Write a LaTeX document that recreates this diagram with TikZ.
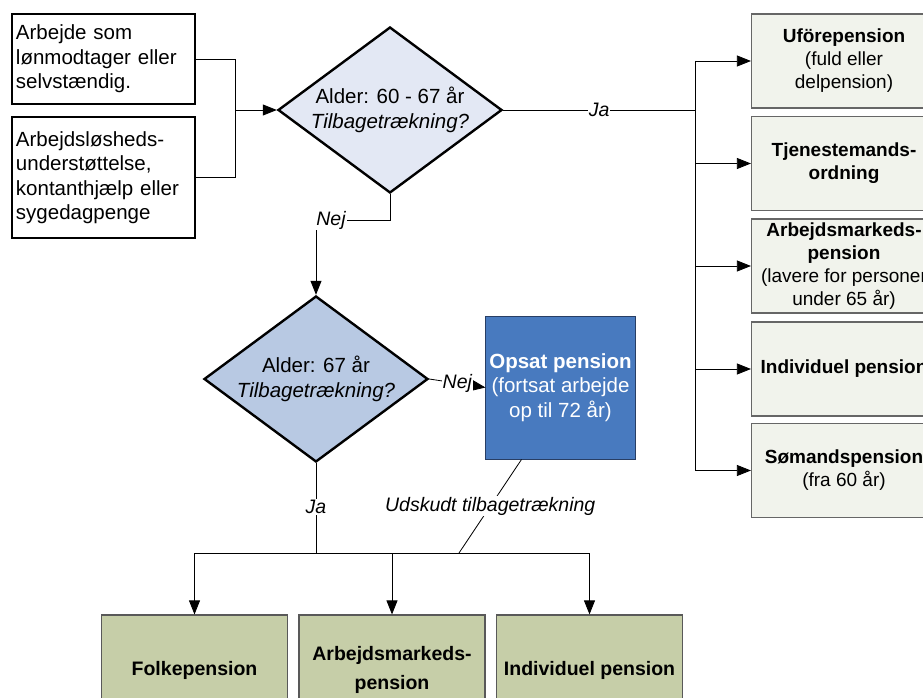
\documentclass[tikz,border=0pt]{standalone}
\usepackage{fontspec}
\setmainfont{Liberation Sans}
\usetikzlibrary{shapes.geometric,arrows.meta,calc}

\definecolor{askA}{RGB}{227,232,244}
\definecolor{askB}{RGB}{184,201,227}
\definecolor{opsatblue}{RGB}{72,122,191}
\definecolor{opsatline}{RGB}{40,62,100}
\definecolor{sidefill}{RGB}{241,243,236}
\definecolor{basefill}{RGB}{198,206,168}

\begin{document}
\begin{tikzpicture}[x = 1pt, y = -1pt,
    every node/.style = {font=\fontsize{20.5}{24.5}\selectfont},
    inbox/.style = {draw, line width=2.6pt, fill=white, minimum width=183, text width=175, inner xsep=4, align=left},
    ask/.style = {diamond, aspect=1.35, draw, line width=2.4pt, minimum width=224, minimum height=166, inner sep=0, align=center},
    sidebox/.style = {draw=black!60, line width=1.2pt, fill=sidefill, minimum width=185, minimum height=94, align=center, font=\fontsize{19}{23}\selectfont},
    basebox/.style = {draw=black!65, line width=1.2pt, fill=basefill, minimum width=186, minimum height=110, align=center, font=\fontsize{19.5}{29}\selectfont},
    arr/.style = {-{Triangle[length=14pt,width=11pt]}},
    lbl/.style = {fill=white, inner sep=1pt, font=\fontsize{19.5}{23}\selectfont\itshape}]
    \useasboundingbox (0,0) rectangle (923,698);
    \begin{scope}[line width=0.8pt]

    % inputs and first question
    \node[inbox, minimum height=90] (arbejde) at (103.5,59) {Arbejde som\\lønmodtager eller\\selvstændig.};
    \node[inbox, minimum height=121] (ledig) at (103.5,177.5) {Arbejdsløsheds-\\understøttelse,\\kontanthjælp eller\\sygedagpenge};
    \node[ask, fill=askA] (alder1) at (390,110) {Alder: 60 - 67 år\\\textit{Tilbagetrækning?}};
    \coordinate (merge) at (235,110);
    \draw (arbejde.east) -| (merge);
    \draw (ledig.east) -| (merge);
    \draw[arr] (merge) -- (alder1.west);

    % early retirement options
    \node[sidebox] (ufoer) at (844,61) {\textbf{Uförepension}\\(fuld eller\\delpension)};
    \node[sidebox] (tjen) at (844,163.5) {\textbf{Tjenestemands-}\\\textbf{ordning}};
    \node[sidebox] (arbmark) at (844,266) {\textbf{Arbejdsmarkeds-}\\\textbf{pension}\\(lavere for personer\\under 65 år)};
    \node[sidebox] (indiv) at (844,369) {\textbf{Individuel pension}};
    \node[sidebox] (soemand) at (844,470.5) {\textbf{Sømandspension}\\(fra 60 år)};
    \coordinate (jaA) at (695,110);
    \draw (alder1.east) -- node[lbl]{Ja} (jaA);
    \draw (jaA |- ufoer.west) -- (jaA |- soemand.west);
    \foreach \n in {ufoer, tjen, arbmark, indiv, soemand}
        \draw[arr] (jaA |- \n.west) -- (\n.west);

    % second question
    \node[ask, fill=askB] (alder2) at (316,379) {Alder: 67 år\\\textit{Tilbagetrækning?}};
    \coordinate (nejA) at (316,220);
    \draw[arr] (alder1.south) -- (alder1.south |- nejA) -- (nejA) -- (alder2.north);
    \node[lbl] at (331,220) {Nej};

    \node[draw=opsatline, line width=1pt, fill=opsatblue, text=white, minimum width=147, minimum height=143, align=center] (opsat) at (560.5,387.5) {\textbf{Opsat pension}\\(fortsat arbejde\\op til 72 år)};
    \draw[arr] (alder2.east) -- node[lbl]{Nej} (opsat.west);

    % old age pensions
    \node[basebox] (folke) at (194.5,670) {\textbf{Folkepension}};
    \node[basebox] (arbmark2) at (392,670) {\textbf{Arbejdsmarkeds-}\\\textbf{pension}};
    \node[basebox] (indiv2) at (589.5,670) {\textbf{Individuel pension}};
    \coordinate (jaB) at (316,553);
    \draw (alder2.south) -- (jaB);
    \node[lbl] at (316,507) {Ja};
    \draw (folke.north |- jaB) -- (indiv2.north |- jaB);
    \foreach \n in {folke, arbmark2, indiv2}
        \draw[arr] (\n.north |- jaB) -- (\n.north);
    \coordinate (udsk) at (459,553);
    \draw ($(opsat.south west)+(36,0)$) -- node[lbl]{Udskudt tilbagetrækning} (udsk);
    \end{scope}
\end{tikzpicture}
\end{document}
